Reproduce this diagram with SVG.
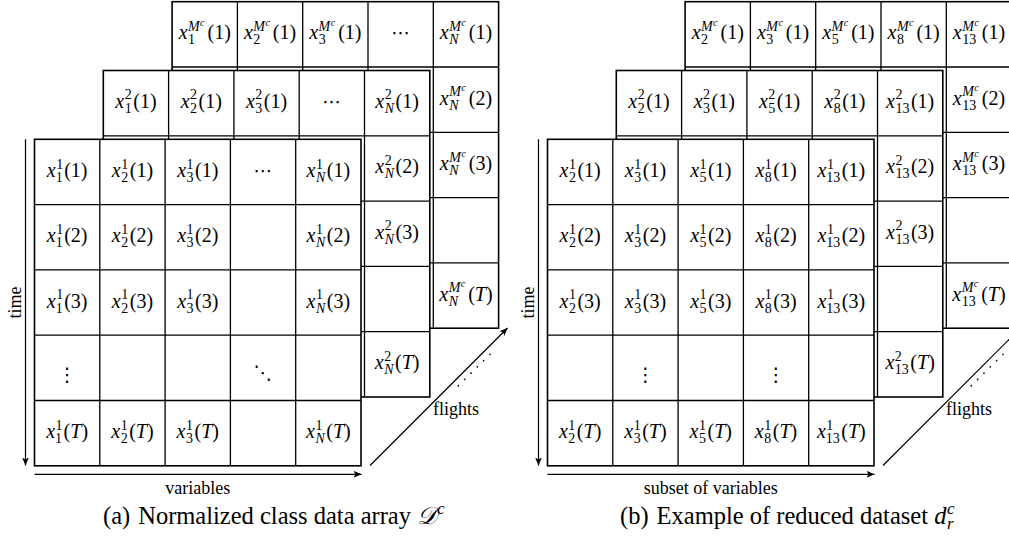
<svg xmlns="http://www.w3.org/2000/svg" width="1009" height="544" viewBox="0 0 1009 544">
<style>
text{font-family:"Liberation Serif","Times New Roman",serif;fill:#000}
.m{font-size:20px;text-anchor:middle}
.i{font-style:italic}
.s{font-size:14px}
.ss{font-size:10px}
.dots{font-family:"DejaVu Sans",sans-serif;font-size:19px;text-anchor:middle}
.ax{font-size:18px}
.cap{font-size:24.5px}
.box{fill:#fff;stroke:#000;stroke-width:1.6}
.grid{fill:none;stroke:#000;stroke-width:1.3}
.arr{fill:none;stroke:#000;stroke-width:1.2;marker-end:url(#ah)}
.dl{fill:none;stroke:#000;stroke-width:1.7;stroke-linecap:round;stroke-dasharray:0 8.92}
</style>
<defs>
<marker id="ah" markerWidth="10" markerHeight="8" refX="8" refY="4" orient="auto" markerUnits="userSpaceOnUse"><path d="M0,0.6 L8,4 L0,7.4 L2,4 z" fill="#000"/></marker>
</defs>

<!-- ===== Panel (a) ===== -->
<g id="a-layer-Mc">
<rect class="box" x="172.1" y="1.7" width="326.5" height="326.5"/>
<path class="grid" d="M237.4,1.7V328.2M302.7,1.7V328.2M368,1.7V328.2M433.3,1.7V328.2M172.1,67H498.6M172.1,132.3H498.6M172.1,197.6H498.6M172.1,262.9H498.6"/>
<text class="m" x="204.75" y="39.4"><tspan class="i">x</tspan><tspan class="s i" dx=".5" dy="-8.5">M</tspan><tspan class="ss i" dx=".4" dy="-5">c</tspan><tspan class="s" dx="-16.5" dy="18.5">1</tspan><tspan dx="12.5" dy="-5">(1)</tspan></text>
<text class="m" x="270.05" y="39.4"><tspan class="i">x</tspan><tspan class="s i" dx=".5" dy="-8.5">M</tspan><tspan class="ss i" dx=".4" dy="-5">c</tspan><tspan class="s" dx="-16.5" dy="18.5">2</tspan><tspan dx="12.5" dy="-5">(1)</tspan></text>
<text class="m" x="335.35" y="39.4"><tspan class="i">x</tspan><tspan class="s i" dx=".5" dy="-8.5">M</tspan><tspan class="ss i" dx=".4" dy="-5">c</tspan><tspan class="s" dx="-16.5" dy="18.5">3</tspan><tspan dx="12.5" dy="-5">(1)</tspan></text>
<text class="dots" x="400.65" y="39.4">⋯</text>
<text class="m" x="465.95" y="39.4"><tspan class="i">x</tspan><tspan class="s i" dx=".5" dy="-8.5">M</tspan><tspan class="ss i" dx=".4" dy="-5">c</tspan><tspan class="s i" dx="-16.5" dy="18.5">N</tspan><tspan dx="10.16" dy="-5">(1)</tspan></text>
<text class="m" x="465.95" y="104.7"><tspan class="i">x</tspan><tspan class="s i" dx=".5" dy="-8.5">M</tspan><tspan class="ss i" dx=".4" dy="-5">c</tspan><tspan class="s i" dx="-16.5" dy="18.5">N</tspan><tspan dx="10.16" dy="-5">(2)</tspan></text>
<text class="m" x="465.95" y="170"><tspan class="i">x</tspan><tspan class="s i" dx=".5" dy="-8.5">M</tspan><tspan class="ss i" dx=".4" dy="-5">c</tspan><tspan class="s i" dx="-16.5" dy="18.5">N</tspan><tspan dx="10.16" dy="-5">(3)</tspan></text>
<text class="m" x="465.95" y="300.6"><tspan class="i">x</tspan><tspan class="s i" dx=".5" dy="-8.5">M</tspan><tspan class="ss i" dx=".4" dy="-5">c</tspan><tspan class="s i" dx="-16.5" dy="18.5">N</tspan><tspan dx="10.16" dy="-5">(</tspan><tspan class="i">T</tspan>)</text>
</g>

<g id="a-layer-2">
<rect class="box" x="103.3" y="70.5" width="326.5" height="326.5"/>
<path class="grid" d="M168.6,70.5V397M233.9,70.5V397M299.2,70.5V397M364.5,70.5V397M103.3,135.8H429.8M103.3,201.1H429.8M103.3,266.4H429.8M103.3,331.7H429.8"/>
<text class="m" x="135.95" y="107.9"><tspan class="i">x</tspan><tspan class="s" dx=".5" dy="-8.5">2</tspan><tspan class="s" dx="-7" dy="13.5">1</tspan><tspan dx="1.5" dy="-5">(1)</tspan></text>
<text class="m" x="201.25" y="107.9"><tspan class="i">x</tspan><tspan class="s" dx=".5" dy="-8.5">2</tspan><tspan class="s" dx="-7" dy="13.5">2</tspan><tspan dx="1.5" dy="-5">(1)</tspan></text>
<text class="m" x="266.55" y="107.9"><tspan class="i">x</tspan><tspan class="s" dx=".5" dy="-8.5">2</tspan><tspan class="s" dx="-7" dy="13.5">3</tspan><tspan dx="1.5" dy="-5">(1)</tspan></text>
<text class="dots" x="331.85" y="107.9">⋯</text>
<text class="m" x="397.15" y="107.9"><tspan class="i">x</tspan><tspan class="s" dx=".5" dy="-8.5">2</tspan><tspan class="s i" dx="-7" dy="13.5">N</tspan><tspan dx="1.5" dy="-5">(1)</tspan></text>
<text class="m" x="397.15" y="173.2"><tspan class="i">x</tspan><tspan class="s" dx=".5" dy="-8.5">2</tspan><tspan class="s i" dx="-7" dy="13.5">N</tspan><tspan dx="1.5" dy="-5">(2)</tspan></text>
<text class="m" x="397.15" y="238.5"><tspan class="i">x</tspan><tspan class="s" dx=".5" dy="-8.5">2</tspan><tspan class="s i" dx="-7" dy="13.5">N</tspan><tspan dx="1.5" dy="-5">(3)</tspan></text>
<text class="m" x="397.15" y="369.1"><tspan class="i">x</tspan><tspan class="s" dx=".5" dy="-8.5">2</tspan><tspan class="s i" dx="-7" dy="13.5">N</tspan><tspan dx="1.5" dy="-5">(</tspan><tspan class="i">T</tspan>)</text>
</g>

<g id="a-layer-1">
<rect class="box" x="34.5" y="139.3" width="326.5" height="326.5"/>
<path class="grid" d="M99.8,139.3V465.8M165.1,139.3V465.8M230.4,139.3V465.8M295.7,139.3V465.8M34.5,204.6H361M34.5,269.9H361M34.5,335.2H361M34.5,400.5H361"/>
<text class="m" x="67.15" y="177"><tspan class="i">x</tspan><tspan class="s" dx=".5" dy="-8.5">1</tspan><tspan class="s" dx="-7" dy="13.5">1</tspan><tspan dx="1.5" dy="-5">(1)</tspan></text>
<text class="m" x="132.45" y="177"><tspan class="i">x</tspan><tspan class="s" dx=".5" dy="-8.5">1</tspan><tspan class="s" dx="-7" dy="13.5">2</tspan><tspan dx="1.5" dy="-5">(1)</tspan></text>
<text class="m" x="197.75" y="177"><tspan class="i">x</tspan><tspan class="s" dx=".5" dy="-8.5">1</tspan><tspan class="s" dx="-7" dy="13.5">3</tspan><tspan dx="1.5" dy="-5">(1)</tspan></text>
<text class="dots" x="263.05" y="177">⋯</text>
<text class="m" x="328.35" y="177"><tspan class="i">x</tspan><tspan class="s" dx=".5" dy="-8.5">1</tspan><tspan class="s i" dx="-7" dy="13.5">N</tspan><tspan dx="1.5" dy="-5">(1)</tspan></text>
<text class="m" x="67.15" y="242.3"><tspan class="i">x</tspan><tspan class="s" dx=".5" dy="-8.5">1</tspan><tspan class="s" dx="-7" dy="13.5">1</tspan><tspan dx="1.5" dy="-5">(2)</tspan></text>
<text class="m" x="132.45" y="242.3"><tspan class="i">x</tspan><tspan class="s" dx=".5" dy="-8.5">1</tspan><tspan class="s" dx="-7" dy="13.5">2</tspan><tspan dx="1.5" dy="-5">(2)</tspan></text>
<text class="m" x="197.75" y="242.3"><tspan class="i">x</tspan><tspan class="s" dx=".5" dy="-8.5">1</tspan><tspan class="s" dx="-7" dy="13.5">3</tspan><tspan dx="1.5" dy="-5">(2)</tspan></text>
<text class="m" x="328.35" y="242.3"><tspan class="i">x</tspan><tspan class="s" dx=".5" dy="-8.5">1</tspan><tspan class="s i" dx="-7" dy="13.5">N</tspan><tspan dx="1.5" dy="-5">(2)</tspan></text>
<text class="m" x="67.15" y="307.6"><tspan class="i">x</tspan><tspan class="s" dx=".5" dy="-8.5">1</tspan><tspan class="s" dx="-7" dy="13.5">1</tspan><tspan dx="1.5" dy="-5">(3)</tspan></text>
<text class="m" x="132.45" y="307.6"><tspan class="i">x</tspan><tspan class="s" dx=".5" dy="-8.5">1</tspan><tspan class="s" dx="-7" dy="13.5">2</tspan><tspan dx="1.5" dy="-5">(3)</tspan></text>
<text class="m" x="197.75" y="307.6"><tspan class="i">x</tspan><tspan class="s" dx=".5" dy="-8.5">1</tspan><tspan class="s" dx="-7" dy="13.5">3</tspan><tspan dx="1.5" dy="-5">(3)</tspan></text>
<text class="m" x="328.35" y="307.6"><tspan class="i">x</tspan><tspan class="s" dx=".5" dy="-8.5">1</tspan><tspan class="s i" dx="-7" dy="13.5">N</tspan><tspan dx="1.5" dy="-5">(3)</tspan></text>
<text class="dots" x="67.15" y="381">⋮</text>
<text class="dots" x="263.05" y="379">⋱</text>
<text class="m" x="67.15" y="438.2"><tspan class="i">x</tspan><tspan class="s" dx=".5" dy="-8.5">1</tspan><tspan class="s" dx="-7" dy="13.5">1</tspan><tspan dx="1.5" dy="-5">(</tspan><tspan class="i">T</tspan>)</text>
<text class="m" x="132.45" y="438.2"><tspan class="i">x</tspan><tspan class="s" dx=".5" dy="-8.5">1</tspan><tspan class="s" dx="-7" dy="13.5">2</tspan><tspan dx="1.5" dy="-5">(</tspan><tspan class="i">T</tspan>)</text>
<text class="m" x="197.75" y="438.2"><tspan class="i">x</tspan><tspan class="s" dx=".5" dy="-8.5">1</tspan><tspan class="s" dx="-7" dy="13.5">3</tspan><tspan dx="1.5" dy="-5">(</tspan><tspan class="i">T</tspan>)</text>
<text class="m" x="328.35" y="438.2"><tspan class="i">x</tspan><tspan class="s" dx=".5" dy="-8.5">1</tspan><tspan class="s i" dx="-7" dy="13.5">N</tspan><tspan dx="1.5" dy="-5">(</tspan><tspan class="i">T</tspan>)</text>
</g>

<!-- ===== Panel (b) ===== -->
<g id="b-layer-Mc">
<rect class="box" x="685.1" y="1.7" width="326.5" height="326.5"/>
<path class="grid" d="M750.4,1.7V328.2M815.7,1.7V328.2M881,1.7V328.2M946.3,1.7V328.2M685.1,67H1011.6M685.1,132.3H1011.6M685.1,197.6H1011.6M685.1,262.9H1011.6"/>
<text class="m" x="717.75" y="39.4"><tspan class="i">x</tspan><tspan class="s i" dx=".5" dy="-8.5">M</tspan><tspan class="ss i" dx=".4" dy="-5">c</tspan><tspan class="s" dx="-16.5" dy="18.5">2</tspan><tspan dx="12.5" dy="-5">(1)</tspan></text>
<text class="m" x="783.05" y="39.4"><tspan class="i">x</tspan><tspan class="s i" dx=".5" dy="-8.5">M</tspan><tspan class="ss i" dx=".4" dy="-5">c</tspan><tspan class="s" dx="-16.5" dy="18.5">3</tspan><tspan dx="12.5" dy="-5">(1)</tspan></text>
<text class="m" x="848.35" y="39.4"><tspan class="i">x</tspan><tspan class="s i" dx=".5" dy="-8.5">M</tspan><tspan class="ss i" dx=".4" dy="-5">c</tspan><tspan class="s" dx="-16.5" dy="18.5">5</tspan><tspan dx="12.5" dy="-5">(1)</tspan></text>
<text class="m" x="913.65" y="39.4"><tspan class="i">x</tspan><tspan class="s i" dx=".5" dy="-8.5">M</tspan><tspan class="ss i" dx=".4" dy="-5">c</tspan><tspan class="s" dx="-16.5" dy="18.5">8</tspan><tspan dx="12.5" dy="-5">(1)</tspan></text>
<text class="m" x="978.95" y="39.4"><tspan class="i">x</tspan><tspan class="s i" dx=".5" dy="-8.5">M</tspan><tspan class="ss i" dx=".4" dy="-5">c</tspan><tspan class="s" dx="-16.5" dy="18.5">13</tspan><tspan dx="5.5" dy="-5">(1)</tspan></text>
<text class="m" x="978.95" y="104.7"><tspan class="i">x</tspan><tspan class="s i" dx=".5" dy="-8.5">M</tspan><tspan class="ss i" dx=".4" dy="-5">c</tspan><tspan class="s" dx="-16.5" dy="18.5">13</tspan><tspan dx="5.5" dy="-5">(2)</tspan></text>
<text class="m" x="978.95" y="170"><tspan class="i">x</tspan><tspan class="s i" dx=".5" dy="-8.5">M</tspan><tspan class="ss i" dx=".4" dy="-5">c</tspan><tspan class="s" dx="-16.5" dy="18.5">13</tspan><tspan dx="5.5" dy="-5">(3)</tspan></text>
<text class="m" x="978.95" y="300.6"><tspan class="i">x</tspan><tspan class="s i" dx=".5" dy="-8.5">M</tspan><tspan class="ss i" dx=".4" dy="-5">c</tspan><tspan class="s" dx="-16.5" dy="18.5">13</tspan><tspan dx="5.5" dy="-5">(</tspan><tspan class="i">T</tspan>)</text>
</g>

<g id="b-layer-2">
<rect class="box" x="616.3" y="70.5" width="326.5" height="326.5"/>
<path class="grid" d="M681.6,70.5V397M746.9,70.5V397M812.2,70.5V397M877.5,70.5V397M616.3,135.8H942.8M616.3,201.1H942.8M616.3,266.4H942.8M616.3,331.7H942.8"/>
<text class="m" x="648.95" y="107.9"><tspan class="i">x</tspan><tspan class="s" dx=".5" dy="-8.5">2</tspan><tspan class="s" dx="-7" dy="13.5">2</tspan><tspan dx="1.5" dy="-5">(1)</tspan></text>
<text class="m" x="714.25" y="107.9"><tspan class="i">x</tspan><tspan class="s" dx=".5" dy="-8.5">2</tspan><tspan class="s" dx="-7" dy="13.5">3</tspan><tspan dx="1.5" dy="-5">(1)</tspan></text>
<text class="m" x="779.55" y="107.9"><tspan class="i">x</tspan><tspan class="s" dx=".5" dy="-8.5">2</tspan><tspan class="s" dx="-7" dy="13.5">5</tspan><tspan dx="1.5" dy="-5">(1)</tspan></text>
<text class="m" x="844.85" y="107.9"><tspan class="i">x</tspan><tspan class="s" dx=".5" dy="-8.5">2</tspan><tspan class="s" dx="-7" dy="13.5">8</tspan><tspan dx="1.5" dy="-5">(1)</tspan></text>
<text class="m" x="910.15" y="107.9"><tspan class="i">x</tspan><tspan class="s" dx=".5" dy="-8.5">2</tspan><tspan class="s" dx="-7" dy="13.5">13</tspan><tspan dx="1.5" dy="-5">(1)</tspan></text>
<text class="m" x="910.15" y="173.2"><tspan class="i">x</tspan><tspan class="s" dx=".5" dy="-8.5">2</tspan><tspan class="s" dx="-7" dy="13.5">13</tspan><tspan dx="1.5" dy="-5">(2)</tspan></text>
<text class="m" x="910.15" y="238.5"><tspan class="i">x</tspan><tspan class="s" dx=".5" dy="-8.5">2</tspan><tspan class="s" dx="-7" dy="13.5">13</tspan><tspan dx="1.5" dy="-5">(3)</tspan></text>
<text class="m" x="910.15" y="369.1"><tspan class="i">x</tspan><tspan class="s" dx=".5" dy="-8.5">2</tspan><tspan class="s" dx="-7" dy="13.5">13</tspan><tspan dx="1.5" dy="-5">(</tspan><tspan class="i">T</tspan>)</text>
</g>

<g id="b-layer-1">
<rect class="box" x="547.5" y="139.3" width="326.5" height="326.5"/>
<path class="grid" d="M612.8,139.3V465.8M678.1,139.3V465.8M743.4,139.3V465.8M808.7,139.3V465.8M547.5,204.6H874M547.5,269.9H874M547.5,335.2H874M547.5,400.5H874"/>
<text class="m" x="580.15" y="177"><tspan class="i">x</tspan><tspan class="s" dx=".5" dy="-8.5">1</tspan><tspan class="s" dx="-7" dy="13.5">2</tspan><tspan dx="1.5" dy="-5">(1)</tspan></text>
<text class="m" x="645.45" y="177"><tspan class="i">x</tspan><tspan class="s" dx=".5" dy="-8.5">1</tspan><tspan class="s" dx="-7" dy="13.5">3</tspan><tspan dx="1.5" dy="-5">(1)</tspan></text>
<text class="m" x="710.75" y="177"><tspan class="i">x</tspan><tspan class="s" dx=".5" dy="-8.5">1</tspan><tspan class="s" dx="-7" dy="13.5">5</tspan><tspan dx="1.5" dy="-5">(1)</tspan></text>
<text class="m" x="776.05" y="177"><tspan class="i">x</tspan><tspan class="s" dx=".5" dy="-8.5">1</tspan><tspan class="s" dx="-7" dy="13.5">8</tspan><tspan dx="1.5" dy="-5">(1)</tspan></text>
<text class="m" x="841.35" y="177"><tspan class="i">x</tspan><tspan class="s" dx=".5" dy="-8.5">1</tspan><tspan class="s" dx="-7" dy="13.5">13</tspan><tspan dx="1.5" dy="-5">(1)</tspan></text>
<text class="m" x="580.15" y="242.3"><tspan class="i">x</tspan><tspan class="s" dx=".5" dy="-8.5">1</tspan><tspan class="s" dx="-7" dy="13.5">2</tspan><tspan dx="1.5" dy="-5">(2)</tspan></text>
<text class="m" x="645.45" y="242.3"><tspan class="i">x</tspan><tspan class="s" dx=".5" dy="-8.5">1</tspan><tspan class="s" dx="-7" dy="13.5">3</tspan><tspan dx="1.5" dy="-5">(2)</tspan></text>
<text class="m" x="710.75" y="242.3"><tspan class="i">x</tspan><tspan class="s" dx=".5" dy="-8.5">1</tspan><tspan class="s" dx="-7" dy="13.5">5</tspan><tspan dx="1.5" dy="-5">(2)</tspan></text>
<text class="m" x="776.05" y="242.3"><tspan class="i">x</tspan><tspan class="s" dx=".5" dy="-8.5">1</tspan><tspan class="s" dx="-7" dy="13.5">8</tspan><tspan dx="1.5" dy="-5">(2)</tspan></text>
<text class="m" x="841.35" y="242.3"><tspan class="i">x</tspan><tspan class="s" dx=".5" dy="-8.5">1</tspan><tspan class="s" dx="-7" dy="13.5">13</tspan><tspan dx="1.5" dy="-5">(2)</tspan></text>
<text class="m" x="580.15" y="307.6"><tspan class="i">x</tspan><tspan class="s" dx=".5" dy="-8.5">1</tspan><tspan class="s" dx="-7" dy="13.5">2</tspan><tspan dx="1.5" dy="-5">(3)</tspan></text>
<text class="m" x="645.45" y="307.6"><tspan class="i">x</tspan><tspan class="s" dx=".5" dy="-8.5">1</tspan><tspan class="s" dx="-7" dy="13.5">3</tspan><tspan dx="1.5" dy="-5">(3)</tspan></text>
<text class="m" x="710.75" y="307.6"><tspan class="i">x</tspan><tspan class="s" dx=".5" dy="-8.5">1</tspan><tspan class="s" dx="-7" dy="13.5">5</tspan><tspan dx="1.5" dy="-5">(3)</tspan></text>
<text class="m" x="776.05" y="307.6"><tspan class="i">x</tspan><tspan class="s" dx=".5" dy="-8.5">1</tspan><tspan class="s" dx="-7" dy="13.5">8</tspan><tspan dx="1.5" dy="-5">(3)</tspan></text>
<text class="m" x="841.35" y="307.6"><tspan class="i">x</tspan><tspan class="s" dx=".5" dy="-8.5">1</tspan><tspan class="s" dx="-7" dy="13.5">13</tspan><tspan dx="1.5" dy="-5">(3)</tspan></text>
<text class="dots" x="645.45" y="381">⋮</text>
<text class="dots" x="776.05" y="381">⋮</text>
<text class="m" x="580.15" y="438.2"><tspan class="i">x</tspan><tspan class="s" dx=".5" dy="-8.5">1</tspan><tspan class="s" dx="-7" dy="13.5">2</tspan><tspan dx="1.5" dy="-5">(</tspan><tspan class="i">T</tspan>)</text>
<text class="m" x="645.45" y="438.2"><tspan class="i">x</tspan><tspan class="s" dx=".5" dy="-8.5">1</tspan><tspan class="s" dx="-7" dy="13.5">3</tspan><tspan dx="1.5" dy="-5">(</tspan><tspan class="i">T</tspan>)</text>
<text class="m" x="710.75" y="438.2"><tspan class="i">x</tspan><tspan class="s" dx=".5" dy="-8.5">1</tspan><tspan class="s" dx="-7" dy="13.5">5</tspan><tspan dx="1.5" dy="-5">(</tspan><tspan class="i">T</tspan>)</text>
<text class="m" x="776.05" y="438.2"><tspan class="i">x</tspan><tspan class="s" dx=".5" dy="-8.5">1</tspan><tspan class="s" dx="-7" dy="13.5">8</tspan><tspan dx="1.5" dy="-5">(</tspan><tspan class="i">T</tspan>)</text>
<text class="m" x="841.35" y="438.2"><tspan class="i">x</tspan><tspan class="s" dx=".5" dy="-8.5">1</tspan><tspan class="s" dx="-7" dy="13.5">13</tspan><tspan dx="1.5" dy="-5">(</tspan><tspan class="i">T</tspan>)</text>
</g>

<!-- ===== Axes / connectors ===== -->
<g id="connectors">
<path class="arr" d="M25.5,139.3V465.5"/>
<path class="arr" d="M34.5,474.3H361.5"/>
<path class="arr" d="M370,465.5L507.5,328"/>
<path class="dl" d="M458.3,385.7L490,354.3"/>
<path class="arr" d="M538.5,139.3V465.5"/>
<path class="arr" d="M547.5,474.3H874.5"/>
<path class="arr" d="M883,465.5L1020.5,328"/>
<path class="dl" d="M971.3,385.7L1003,354.3"/>
</g>

<g id="labels">
<text class="ax" text-anchor="middle" transform="translate(20.5,302.5) rotate(-90)">time</text>
<text class="ax" text-anchor="middle" x="197.75" y="494">variables</text>
<text class="ax" x="433" y="415">flights</text>
<text class="ax" text-anchor="middle" transform="translate(533.5,302.5) rotate(-90)">time</text>
<text class="ax" text-anchor="middle" x="710.75" y="494">subset of variables</text>
<text class="ax" x="946" y="415">flights</text>
<text class="cap" x="103" y="524">(a)<tspan dx="8">Normalized class data array </tspan><tspan font-family="'DejaVu Serif','Noto Sans',serif" font-style="italic">𝒟</tspan><tspan class="i" font-size="17" dy="-10">c</tspan></text>
<text class="cap" x="620" y="524">(b)<tspan dx="8">Example of reduced dataset </tspan><tspan class="i">d</tspan><tspan class="i" font-size="17" dx="0.5" dy="-10">c</tspan><tspan class="i" font-size="17" dx="-7.5" dy="15">r</tspan></text>
</g>
</svg>
